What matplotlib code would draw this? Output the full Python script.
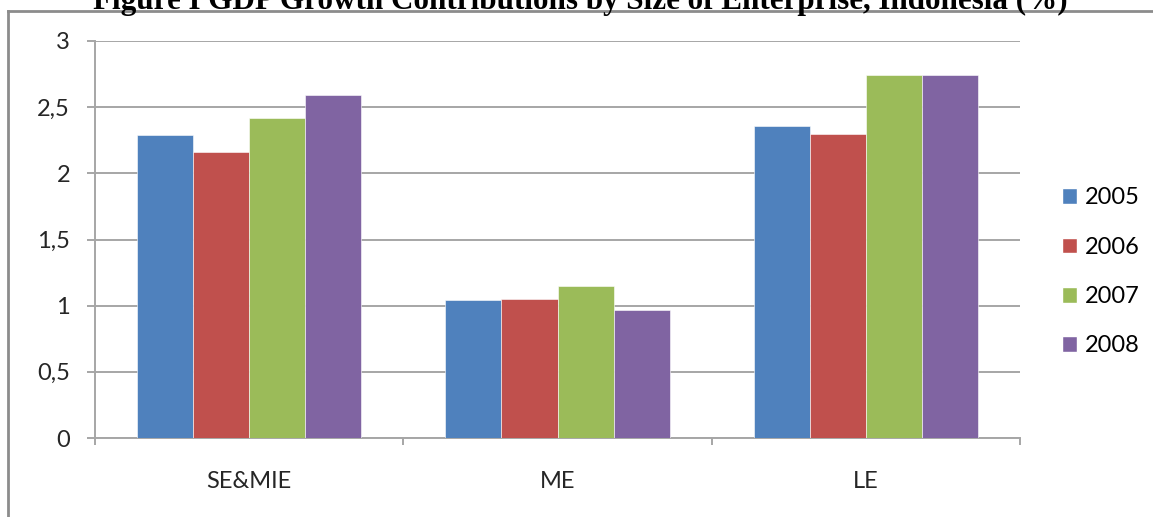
import numpy as np
import matplotlib.pyplot as plt
from matplotlib.lines import Line2D
from matplotlib.patches import Patch

categories = ["SE&MIE", "ME", "LE"]
years = ["2005", "2006", "2007", "2008"]
values = {
    "2005": [2.29, 1.04, 2.36],
    "2006": [2.16, 1.05, 2.30],
    "2007": [2.42, 1.15, 2.74],
    "2008": [2.59, 0.97, 2.74],
}
colors = ["#4F81BD", "#C0504D", "#9BBB59", "#8064A2"]
yticks = [0, 0.5, 1, 1.5, 2, 2.5, 3]
ytick_labels = ["0", "0,5", "1", "1,5", "2", "2,5", "3"]

plt.rcParams["font.family"] = ["Lato", "DejaVu Sans"]

fig = plt.figure(figsize=(11.53, 5.17), dpi=100)
ax = fig.add_axes([0.0824, 0.1528, 0.8023, 0.7679])

grid_c = "#A6A6A6"
txt_c = "#262626"
fs = 17
x = np.arange(len(categories))
w = 1 / 5.5
for i, yr in enumerate(years):
    ax.bar(x + (i - 1.5) * w, values[yr], width=w, color=colors[i],
           edgecolor="white", linewidth=0.4, label=yr, zorder=3)

ax.set_xlim(-0.5, len(categories) - 0.5)
ax.set_ylim(0, 3)
ax.set_yticks(yticks)
ax.set_yticklabels(ytick_labels, fontsize=fs, color=txt_c)
ax.yaxis.grid(True, color=grid_c, linewidth=1.4, zorder=0)
ax.tick_params(axis="y", length=6, width=1.4, color=grid_c, pad=12)

# category ticks sit between the groups
ax.set_xticks(np.arange(-0.5, len(categories), 1.0))
ax.set_xticklabels([])
ax.set_xticks(x, minor=True)
ax.set_xticklabels(categories, minor=True, fontsize=fs, color=txt_c)
ax.tick_params(axis="x", which="major", length=5, width=1.4, color=grid_c)
ax.tick_params(axis="x", which="minor", length=0, pad=24)

for s in ["top", "right"]:
    ax.spines[s].set_visible(False)
for s in ["left", "bottom"]:
    ax.spines[s].set_color(grid_c)
    ax.spines[s].set_linewidth(1.4)

handles = [Patch(facecolor=c, edgecolor="white", label=y) for c, y in zip(colors, years)]
fig.legend(handles=handles, loc="center left", bbox_to_anchor=(0.921, 0.474),
           frameon=False, fontsize=fs, handlelength=0.66, handleheight=0.66,
           handletextpad=0.3, labelspacing=1.2, borderaxespad=0, borderpad=0)

# outer chart frame
fy = 1 - 11 / 517
fx = 8 / 1153
fig.add_artist(Line2D([fx, fx], [0, fy], color="#8C8C8C", linewidth=2,
                      transform=fig.transFigure))
fig.add_artist(Line2D([fx, 1], [fy, fy], color="#8C8C8C", linewidth=2,
                      transform=fig.transFigure))

fig.text(0.503, 1 - 9 / 517,
         "Figure I GDP Growth Contributions by Size of Enterprise, Indonesia (%)",
         ha="center", va="baseline", fontsize=22.4, fontweight="bold",
         family="Liberation Serif")

fig.savefig("out.png", dpi=100)
